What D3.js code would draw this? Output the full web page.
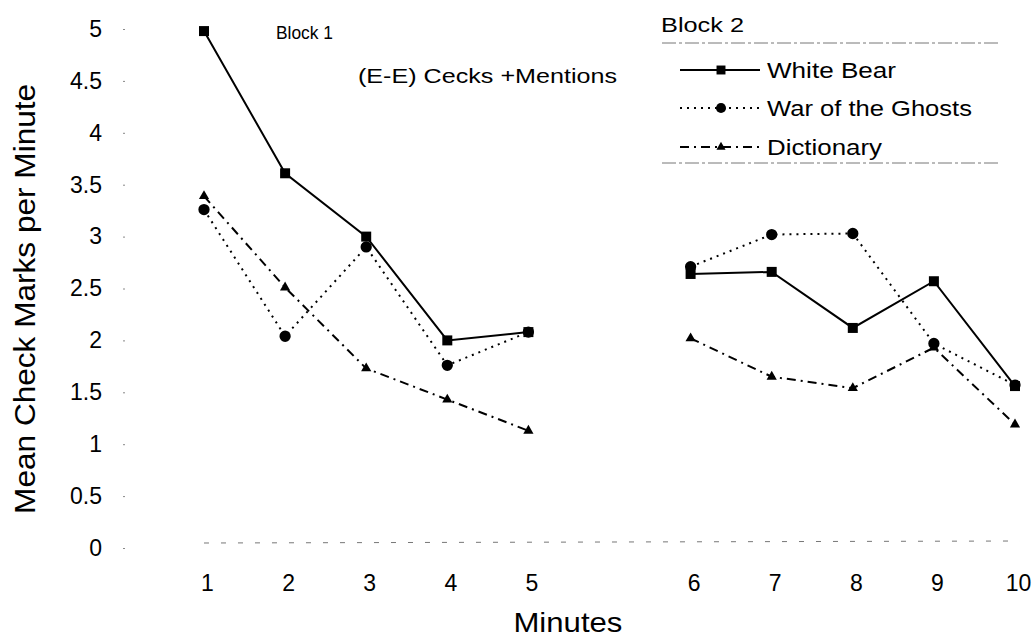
<!DOCTYPE html>
<html>
<head>
<meta charset="utf-8">
<script src="https://cdn.jsdelivr.net/npm/d3@7/dist/d3.min.js"></script>
<style>
  html, body { margin: 0; padding: 0; background: #fff; }
  svg { display: block; font-family: "Liberation Sans", Arial, sans-serif; }
</style>
</head>
<body>
<svg id="chart" width="1035" height="638"></svg>
<script>
// ---- data ----
const minutes = [1, 2, 3, 4, 5, 6, 7, 8, 9, 10];
const blocks = [[1, 2, 3, 4, 5], [6, 7, 8, 9, 10]];
const whiteBear = [4.98, 3.61, 3.00, 2.00, 2.08, 2.64, 2.66, 2.12, 2.57, 1.56];
const warGhosts = [3.26, 2.04, 2.90, 1.76, 2.08, 2.71, 3.02, 3.03, 1.97, 1.57];
const dictionary = [3.39, 2.51, 1.73, 1.43, 1.13, 2.02, 1.65, 1.54, 1.93, 1.19];
const yTicks = [0, 0.5, 1, 1.5, 2, 2.5, 3, 3.5, 4, 4.5, 5];
const seriesNames = ["White Bear", "War of the Ghosts", "Dictionary"];
// slot layout: an empty slot separates Block 1 and Block 2
const slots = ["1", "2", "3", "4", "5", "gap", "6", "7", "8", "9", "10"];

const series = [
  { name: seriesNames[0], values: whiteBear, symbol: d3.symbolSquare, size: 100, dash: null },
  { name: seriesNames[1], values: warGhosts, symbol: d3.symbolCircle, size: 100, dash: "2,5" },
  { name: seriesNames[2], values: dictionary, symbol: d3.symbolTriangle, size: 45, dash: "9,5,2,5" }
];

const svg = d3.select("#chart");
const x = d3.scalePoint().domain(slots).range([204, 1015]);
const y = d3.scaleLinear().domain([0, 5]).range([548, 29]);

// faint baseline at zero
svg.append("line")
  .attr("x1", x("1")).attr("x2", x("10") + 5)
  .attr("y1", y(0) - 5).attr("y2", y(0) - 7)
  .attr("stroke", "#777").attr("stroke-width", 1)
  .attr("stroke-dasharray", "5,12");

// y axis
const yAxis = svg.append("g")
  .attr("transform", "translate(125,0)")
  .call(d3.axisLeft(y).tickValues(yTicks).tickSize(2).tickPadding(21)
    .tickFormat(d => String(d)));
yAxis.select(".domain").remove();
yAxis.selectAll(".tick line").attr("stroke", "#888");
yAxis.selectAll(".tick text")
  .attr("font-size", 23).attr("fill", "#000")
  .attr("font-family", "Liberation Sans, Arial, sans-serif");

// x axis
const xAxis = svg.append("g")
  .attr("transform", `translate(0,${y(0)})`)
  .call(d3.axisBottom(x).tickValues(minutes.map(String)).tickSize(0).tickPadding(27));
xAxis.select(".domain").remove();
xAxis.selectAll(".tick text")
  .attr("font-size", 23).attr("fill", "#000").attr("dx", 3)
  .attr("font-family", "Liberation Sans, Arial, sans-serif");

// axis titles
svg.append("text")
  .attr("transform", `translate(35,${(y(0.2) + y(4.6)) / 2}) rotate(-90)`)
  .attr("text-anchor", "middle")
  .attr("font-size", 30)
  .attr("textLength", 430).attr("lengthAdjust", "spacingAndGlyphs")
  .text("Mean Check Marks per Minute");

svg.append("text")
  .attr("x", (x("5") + x("gap")) / 2 - 1).attr("y", 632)
  .attr("text-anchor", "middle")
  .attr("font-size", 28)
  .attr("textLength", 109).attr("lengthAdjust", "spacingAndGlyphs")
  .text("Minutes");

// annotations
svg.append("text").attr("x", 276).attr("y", 39)
  .attr("font-size", 19).attr("textLength", 57).attr("lengthAdjust", "spacingAndGlyphs")
  .text("Block 1");
svg.append("text").attr("x", 358).attr("y", 83)
  .attr("font-size", 20).attr("textLength", 259).attr("lengthAdjust", "spacingAndGlyphs")
  .text("(E-E) Cecks +Mentions");

// lines and markers
const line = d3.line().x(d => x(String(d.m))).y(d => y(d.v));
series.forEach(s => {
  const g = svg.append("g");
  blocks.forEach(b => {
    const pts = b.map(m => ({ m, v: s.values[minutes.indexOf(m)] }));
    g.append("path")
      .attr("d", line(pts))
      .attr("fill", "none").attr("stroke", "#000").attr("stroke-width", 2)
      .attr("stroke-dasharray", s.dash);
  });
  g.selectAll("path.mk")
    .data(minutes.map((m, i) => ({ m, v: s.values[i] })))
    .join("path").attr("class", "mk")
    .attr("transform", d => `translate(${x(String(d.m))},${y(d.v)})`)
    .attr("d", d3.symbol().type(s.symbol).size(s.size))
    .attr("fill", "#000");
});

// legend
const lg = svg.append("g");
lg.append("text").attr("x", 661).attr("y", 32)
  .attr("font-size", 21).attr("textLength", 83).attr("lengthAdjust", "spacingAndGlyphs")
  .text("Block 2");
[43, 163].forEach(ly => {
  lg.append("line").attr("x1", 662).attr("x2", 998).attr("y1", ly).attr("y2", ly)
    .attr("stroke", "#777").attr("stroke-width", 1).attr("stroke-dasharray", "14,3,3,3");
});
const legendY = [70, 108, 147];
const legendW = [129, 205, 115];
series.forEach((s, i) => {
  const ly = legendY[i];
  lg.append("line").attr("x1", 680).attr("x2", 760).attr("y1", ly).attr("y2", ly)
    .attr("stroke", "#000").attr("stroke-width", 2).attr("stroke-dasharray", s.dash);
  lg.append("path")
    .attr("transform", `translate(721,${ly})`)
    .attr("d", d3.symbol().type(s.symbol).size(s.size * 0.8))
    .attr("fill", "#000");
  lg.append("text").attr("x", 767).attr("y", ly + 8)
    .attr("font-size", 22).attr("textLength", legendW[i]).attr("lengthAdjust", "spacingAndGlyphs")
    .text(s.name);
});
</script>
</body>
</html>
